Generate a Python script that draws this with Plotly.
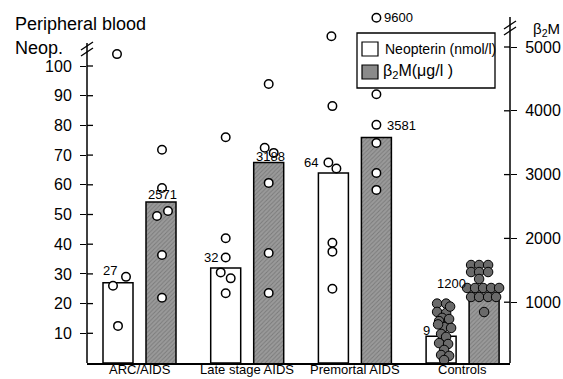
import plotly.graph_objects as go

# ---------------- data ----------------
categories = ["ARC/AIDS", "Late stage AIDS", "Premortal AIDS", "Controls"]
neop_means = [27, 32, 64, 9]          # nmol/l
b2m_means = [2571, 3188, 3581, 1200]  # ug/l

neop_points = [
    [104, 29, 26, 12.5],
    [76, 42, 35.5, 30.5, 28.5, 23.5],
    [110, 86.5, 67.5, 65.5, 40.5, 37.5, 25],
    [20, 20, 17.2, 16.8, 15.2, 14.8, 14.1, 12.1, 11.8, 9.8, 8.8, 6.7, 6.4, 4.4, 2.7, 2.4, 1.0, 19.0, 13.0],
]
b2m_points = [
    [3390, 2790, 2430, 2350, 1740, 1070],
    [4420, 3420, 3340, 2870, 1770, 1145],
    [9600, 4260, 3780, 3495, 3025, 2760],
    [1583, 1583, 1583, 1473, 1473, 1473, 1364, 1223, 1223, 1223, 1223, 1223,
     1082, 1082, 1082, 1082, 846],
]

# horizontal jitter of the dots (pixels)
neop_jitter = [
    [-1, 8, -5, 0],
    [0, 0, 0, -5, 5, 0],
    [-2, -1, -5, 3, -1, -1, -1],
    [-4, 5, -4, 5, 1, 8, -2, 3, 10, 0, 5, -2, 7, 3, 0, 8, 3, 9, -3],
]
b2m_jitter = [
    [1, 1, 7, -4, 1, 1],
    [0, -4, 5, 0, 0, 0],
    [0, 0, 0, 0, 0, 0],
    [-13, -5, 4, -13, -5, 4, -5, -17, -9, -1, 7, 15, -13, -5, 4, 12, 0],
]

# ---------------- layout helpers ----------------
W, H = 563, 379
L, R, T, B = 87, 510, 15, 363
PX_PER_UNIT = 107.7
XMIN = -(139.5 - L) / PX_PER_UNIT
XMAX = XMIN + (R - L) / PX_PER_UNIT
Y_RANGE = [0, (B - T) / 2.97]
Y2_RANGE = [(366 - B) / 0.0638, (366 - T) / 0.0638]
OFF = 21.5 / PX_PER_UNIT
BW = 30 / PX_PER_UNIT
FONT = "Liberation Sans, Arial, Helvetica, sans-serif"

B2M_BREAK = 5300


def b2m_display(v):
    return v if v <= B2M_BREAK else B2M_BREAK + (v - B2M_BREAK) * 0.037


def pxx(px):
    return (px - L) / (R - L)


def pxy(py):
    return (B - py) / (B - T)


fig = go.Figure()

groups = list(range(len(categories)))

fig.add_trace(go.Bar(
    x=[g - OFF for g in groups], y=neop_means, width=BW,
    marker=dict(color="white", line=dict(color="black", width=1.5)),
    yaxis="y", showlegend=False, hoverinfo="skip"))

fig.add_trace(go.Bar(
    x=[g + OFF for g in groups], y=b2m_means, width=BW,
    marker=dict(color="#8e8e8e", line=dict(color="black", width=1.5),
                pattern=dict(shape="/", size=3, solidity=0.3, fgcolor="#5a5a5a", bgcolor="#9a9a9a")),
    yaxis="y2", showlegend=False, hoverinfo="skip"))

# dots
for gi, g in enumerate(groups):
    filled = categories[gi] == "Controls"
    mk = dict(size=8.5 if not filled else 9.5,
              color="#6a6a6a" if filled else "white",
              line=dict(color="black", width=1.5 if not filled else 1.0))
    fig.add_trace(go.Scatter(
        x=[g - OFF + j / PX_PER_UNIT for j in neop_jitter[gi]],
        y=neop_points[gi], mode="markers", marker=mk, cliponaxis=False,
        yaxis="y", showlegend=False, hoverinfo="skip"))
    fig.add_trace(go.Scatter(
        x=[g + OFF + j / PX_PER_UNIT for j in b2m_jitter[gi]],
        y=[b2m_display(v) for v in b2m_points[gi]], mode="markers", marker=mk,
        cliponaxis=False, yaxis="y2", showlegend=False, hoverinfo="skip"))

annotations = []
# category labels under the baseline
for gi, g in enumerate(groups):
    annotations.append(dict(x=g, y=0, xref="x", yref="paper", text=categories[gi],
                            showarrow=False, yanchor="top", yshift=2, borderpad=0,
                            font=dict(size=13, color="black")))

# bar value labels (shift in px from bar top)
neop_lab_shift = [(-8, 12), (-15, 10), (-22, 10), (-15, 6)]
b2m_lab_shift = [(1, 7), (2, 6), (25, 12), (-33, 6)]
for gi, g in enumerate(groups):
    dx, dy = neop_lab_shift[gi]
    annotations.append(dict(x=g - OFF, y=neop_means[gi], xref="x", yref="y",
                            text=str(neop_means[gi]), showarrow=False,
                            xshift=dx, yshift=dy, font=dict(size=13, color="black")))
    dx, dy = b2m_lab_shift[gi]
    annotations.append(dict(x=g + OFF, y=b2m_means[gi], xref="x", yref="y2",
                            text=str(b2m_means[gi]), showarrow=False,
                            xshift=dx, yshift=dy, font=dict(size=13, color="black")))

# label of the off-scale point
for gi, g in enumerate(groups):
    for v, j in zip(b2m_points[gi], b2m_jitter[gi]):
        if v > B2M_BREAK:
            annotations.append(dict(x=g + OFF + j / PX_PER_UNIT, y=b2m_display(v),
                                    xref="x", yref="y2", text=str(v), showarrow=False,
                                    xanchor="left", xshift=6, font=dict(size=13, color="black")))

# axis titles and legend text
annotations += [
    dict(x=pxx(13), y=pxy(24), xref="paper", yref="paper", text="Peripheral blood",
         showarrow=False, xanchor="left", yanchor="middle", font=dict(size=18, color="black")),
    dict(x=pxx(13), y=pxy(48), xref="paper", yref="paper", text="Neop.",
         showarrow=False, xanchor="left", yanchor="middle", font=dict(size=18, color="black")),
    dict(x=pxx(531), y=pxy(29), xref="paper", yref="paper", text="β<sub>2</sub>M",
         showarrow=False, xanchor="left", yanchor="middle", font=dict(size=15, color="black")),
    dict(x=pxx(383), y=pxy(49), xref="paper", yref="paper", text="Neopterin (nmol/l)",
         showarrow=False, xanchor="left", yanchor="middle", font=dict(size=14, color="black")),
    dict(x=pxx(381), y=pxy(71), xref="paper", yref="paper", text="β<sub>2</sub>M(μg/l )",
         showarrow=False, xanchor="left", yanchor="middle", font=dict(size=16, color="black")),
]

shapes = []
# axis lines
shapes.append(dict(type="line", xref="paper", yref="y", x0=0, x1=0, y0=0, y1=(B - 43) / 2.97,
                   line=dict(color="black", width=1.5)))
shapes.append(dict(type="line", xref="paper", yref="y2", x0=1, x1=1, y0=Y2_RANGE[0],
                   y1=(366 - 17) / 0.0638, line=dict(color="black", width=1.5)))
# inner half of crossing ticks
left_ticks = [10, 20, 30, 40, 50, 60, 70, 80, 90, 100]
right_ticks = [1000, 2000, 3000, 4000, 5000]
for t in left_ticks:
    shapes.append(dict(type="line", xref="paper", xsizemode="pixel", xanchor=0, x0=0, x1=6,
                       yref="y", y0=t, y1=t, line=dict(color="black", width=1.3)))
for t in right_ticks:
    shapes.append(dict(type="line", xref="paper", xsizemode="pixel", xanchor=1, x0=-6, x1=0,
                       yref="y2", y0=t, y1=t, line=dict(color="black", width=1.3)))
# break marks
for yc in [(B - 46) / 2.97, (B - 52) / 2.97]:
    shapes.append(dict(type="line", xref="paper", xsizemode="pixel", xanchor=0, x0=-6, x1=6,
                       yref="y", ysizemode="pixel", yanchor=yc, y0=-4, y1=4,
                       line=dict(color="black", width=1.3)))
for yc in [(366 - 25) / 0.0638, (366 - 31) / 0.0638]:
    shapes.append(dict(type="line", xref="paper", xsizemode="pixel", xanchor=1, x0=-6, x1=6,
                       yref="y2", ysizemode="pixel", yanchor=yc, y0=-4, y1=4,
                       line=dict(color="black", width=1.3)))
# legend box
shapes.append(dict(type="rect", xref="paper", yref="paper", x0=pxx(357), x1=pxx(495),
                   y0=pxy(88), y1=pxy(33), fillcolor="white", line=dict(color="black", width=1.3),
                   layer="above"))
shapes.append(dict(type="rect", xref="paper", yref="paper", x0=pxx(362), x1=pxx(378),
                   y0=pxy(56), y1=pxy(42), fillcolor="white", line=dict(color="black", width=1.2),
                   layer="above"))
shapes.append(dict(type="rect", xref="paper", yref="paper", x0=pxx(362), x1=pxx(378),
                   y0=pxy(79), y1=pxy(65), fillcolor="#8a8a8a", line=dict(color="black", width=1.2),
                   layer="above"))

fig.update_layout(
    width=W, height=H, autosize=False,
    margin=dict(l=L, r=W - R, t=T, b=H - B, pad=0, autoexpand=False),
    paper_bgcolor="white", plot_bgcolor="white",
    font=dict(family=FONT, color="black"),
    barmode="overlay",
    showlegend=False,
    xaxis=dict(range=[XMIN, XMAX], showticklabels=False,
               showline=True, linecolor="black", linewidth=1.5, ticks="", showgrid=False,
               zeroline=False, automargin=False, fixedrange=True),
    yaxis=dict(range=Y_RANGE, tickmode="array", tickvals=left_ticks, ticks="outside",
               ticklen=6, tickwidth=1.3, tickcolor="black", showline=False, showgrid=False,
               zeroline=False, tickfont=dict(size=16), ticklabelstandoff=5, automargin=False),
    yaxis2=dict(range=Y2_RANGE, overlaying="y", side="right", tickmode="array",
                tickvals=right_ticks, ticks="outside", ticklen=6, tickwidth=1.3,
                tickcolor="black", showline=False, showgrid=False, zeroline=False,
                tickfont=dict(size=16), ticklabelstandoff=5, automargin=False),
    annotations=annotations,
    shapes=shapes,
)

fig.write_html("out.html")
